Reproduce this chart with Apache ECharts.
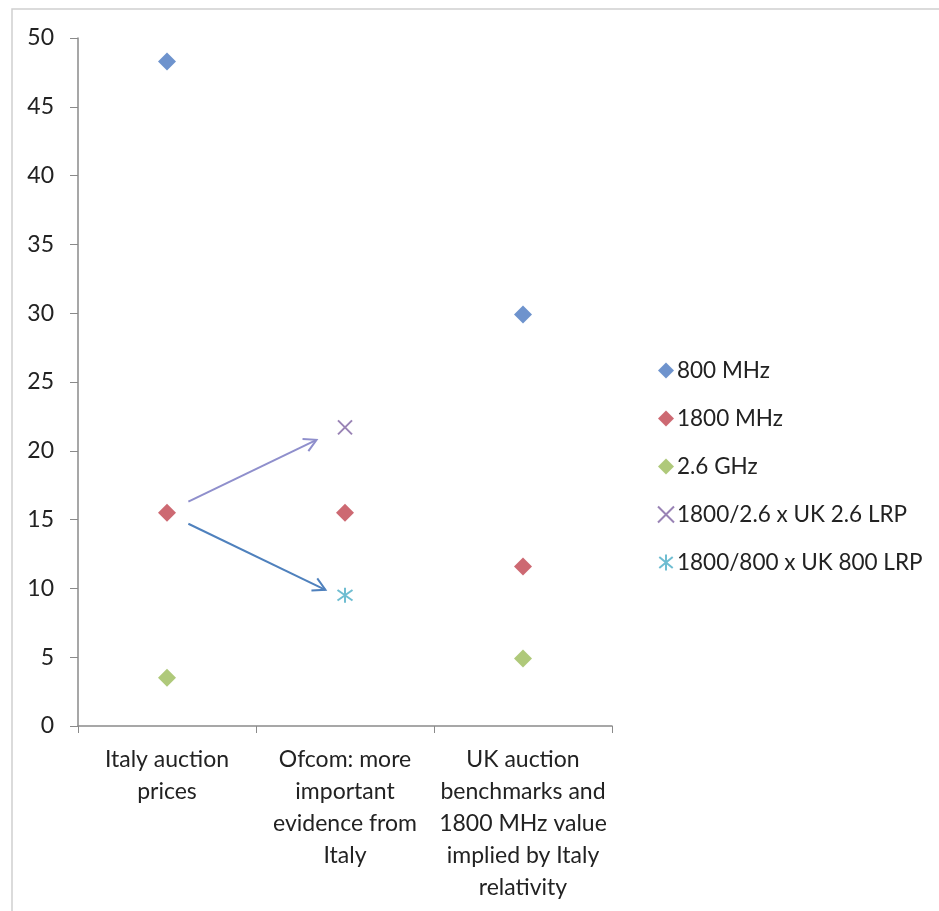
<!DOCTYPE html>
<html><head><meta charset="utf-8">
<script src="https://cdn.jsdelivr.net/npm/echarts@6/dist/echarts.min.js"></script>
<style>html,body{margin:0;padding:0;background:#fff}#c{width:939px;height:911px}</style>
</head><body><div id="c"></div>
<script>
const categories = ["Italy auction\nprices", "Ofcom: more\nimportant\nevidence from\nItaly", "UK auction\nbenchmarks and\n1800 MHz value\nimplied by Italy\nrelativity"];
const s800 = [48.3, null, 29.9];
const s1800 = [15.5, 15.5, 11.6];
const s26 = [3.5, null, 4.9];
const sLRP26 = [null, 21.7, null];
const sLRP800 = [null, 9.5, null];
const yTicks = {min: 0, max: 50, interval: 5};
// arrow annotations: [catPos, value] start -> end
const arrowUp = [[0.12, 16.3], [0.84, 20.8]];
const arrowDown = [[0.12, 14.7], [0.89, 9.9]];

const FONT = 'Lato';
const xPath = 'path://M0,0 L10,10 M10,0 L0,10';
const starPath = 'path://M5,0 L5,10 M0.8,1.5 L9.2,8.5 M0.8,8.5 L9.2,1.5';

const chart = echarts.init(document.getElementById('c'));
function sc(name, data, color, symbol, size, stroke) {
  return {
    name, type: 'scatter', data, symbol, symbolSize: size,
    itemStyle: stroke ? {color: 'rgba(0,0,0,0)', borderColor: color, borderWidth: 2} : {color},
    emphasis: {disabled: true}
  };
}
const option = {
  animation: false,
  textStyle: {fontFamily: FONT},
  grid: {left: 78, right: 327, top: 38, bottom: 185},
  legend: {
    orient: 'vertical', left: 652, top: 354, itemGap: 25, itemWidth: 16, itemHeight: 16,
    textStyle: {fontFamily: FONT, fontSize: 22.5, color: '#222', padding: [0, 0, 0, -2]},
    data: [
      {name: '800 MHz', icon: 'diamond'},
      {name: '1800 MHz', icon: 'diamond'},
      {name: '2.6 GHz', icon: 'diamond'},
      {name: '1800/2.6 x UK 2.6 LRP'},
      {name: '1800/800 x UK 800 LRP'}
    ]
  },
  xAxis: {
    type: 'category', data: categories, boundaryGap: true,
    axisLine: {lineStyle: {color: '#8a8a8a', width: 1.5}},
    axisTick: {show: true, length: 7, lineStyle: {color: '#8a8a8a'}},
    axisLabel: {fontFamily: FONT, fontSize: 23, color: '#222', lineHeight: 32, margin: 18, interval: 0, align: 'center'},
    splitLine: {show: false}
  },
  yAxis: {
    type: 'value', min: yTicks.min, max: yTicks.max, interval: yTicks.interval,
    axisLine: {show: true, lineStyle: {color: '#8a8a8a', width: 1.5}},
    axisTick: {show: true, length: 8, lineStyle: {color: '#8a8a8a'}},
    axisLabel: {fontFamily: FONT, fontSize: 23, color: '#222', margin: 24},
    splitLine: {show: false}
  },
  series: [
    sc('800 MHz', s800, '#4A78C0', 'diamond', 18),
    sc('1800 MHz', s1800, '#C0444F', 'diamond', 18),
    sc('2.6 GHz', s26, '#9BBB59', 'diamond', 18),
    sc('1800/2.6 x UK 2.6 LRP', sLRP26, '#8064A2', xPath, 14, true),
    sc('1800/800 x UK 800 LRP', sLRP800, '#4BACC6', starPath, 15, true)
  ],
  graphic: [{type: 'rect', shape: {x: 12, y: 9, width: 940, height: 920}, style: {fill: 'none', stroke: '#cfcfcf', lineWidth: 1.5}, silent: true}]
};
chart.setOption(option);

function toPx(p) {
  const a = chart.convertToPixel({gridIndex: 0}, [0, p[1]]);
  const b = chart.convertToPixel({gridIndex: 0}, [1, p[1]]);
  return [a[0] + (b[0] - a[0]) * p[0], a[1]];
}
function arrow(seg, color) {
  const s = toPx(seg[0]), e = toPx(seg[1]);
  const ang = Math.atan2(e[1] - s[1], e[0] - s[0]);
  const L = 14, w = 0.5;
  const h1 = [e[0] - L * Math.cos(ang - w), e[1] - L * Math.sin(ang - w)];
  const h2 = [e[0] - L * Math.cos(ang + w), e[1] - L * Math.sin(ang + w)];
  return [
    {type: 'line', shape: {x1: s[0], y1: s[1], x2: e[0], y2: e[1]}, style: {stroke: color, lineWidth: 2}, silent: true},
    {type: 'polyline', shape: {points: [h1, e, h2]}, style: {stroke: color, lineWidth: 2, fill: 'none'}, silent: true}
  ];
}
chart.setOption({graphic: option.graphic.concat(arrow(arrowUp, '#8f8fcc'), arrow(arrowDown, '#4F81BD'))});
</script></body></html>
